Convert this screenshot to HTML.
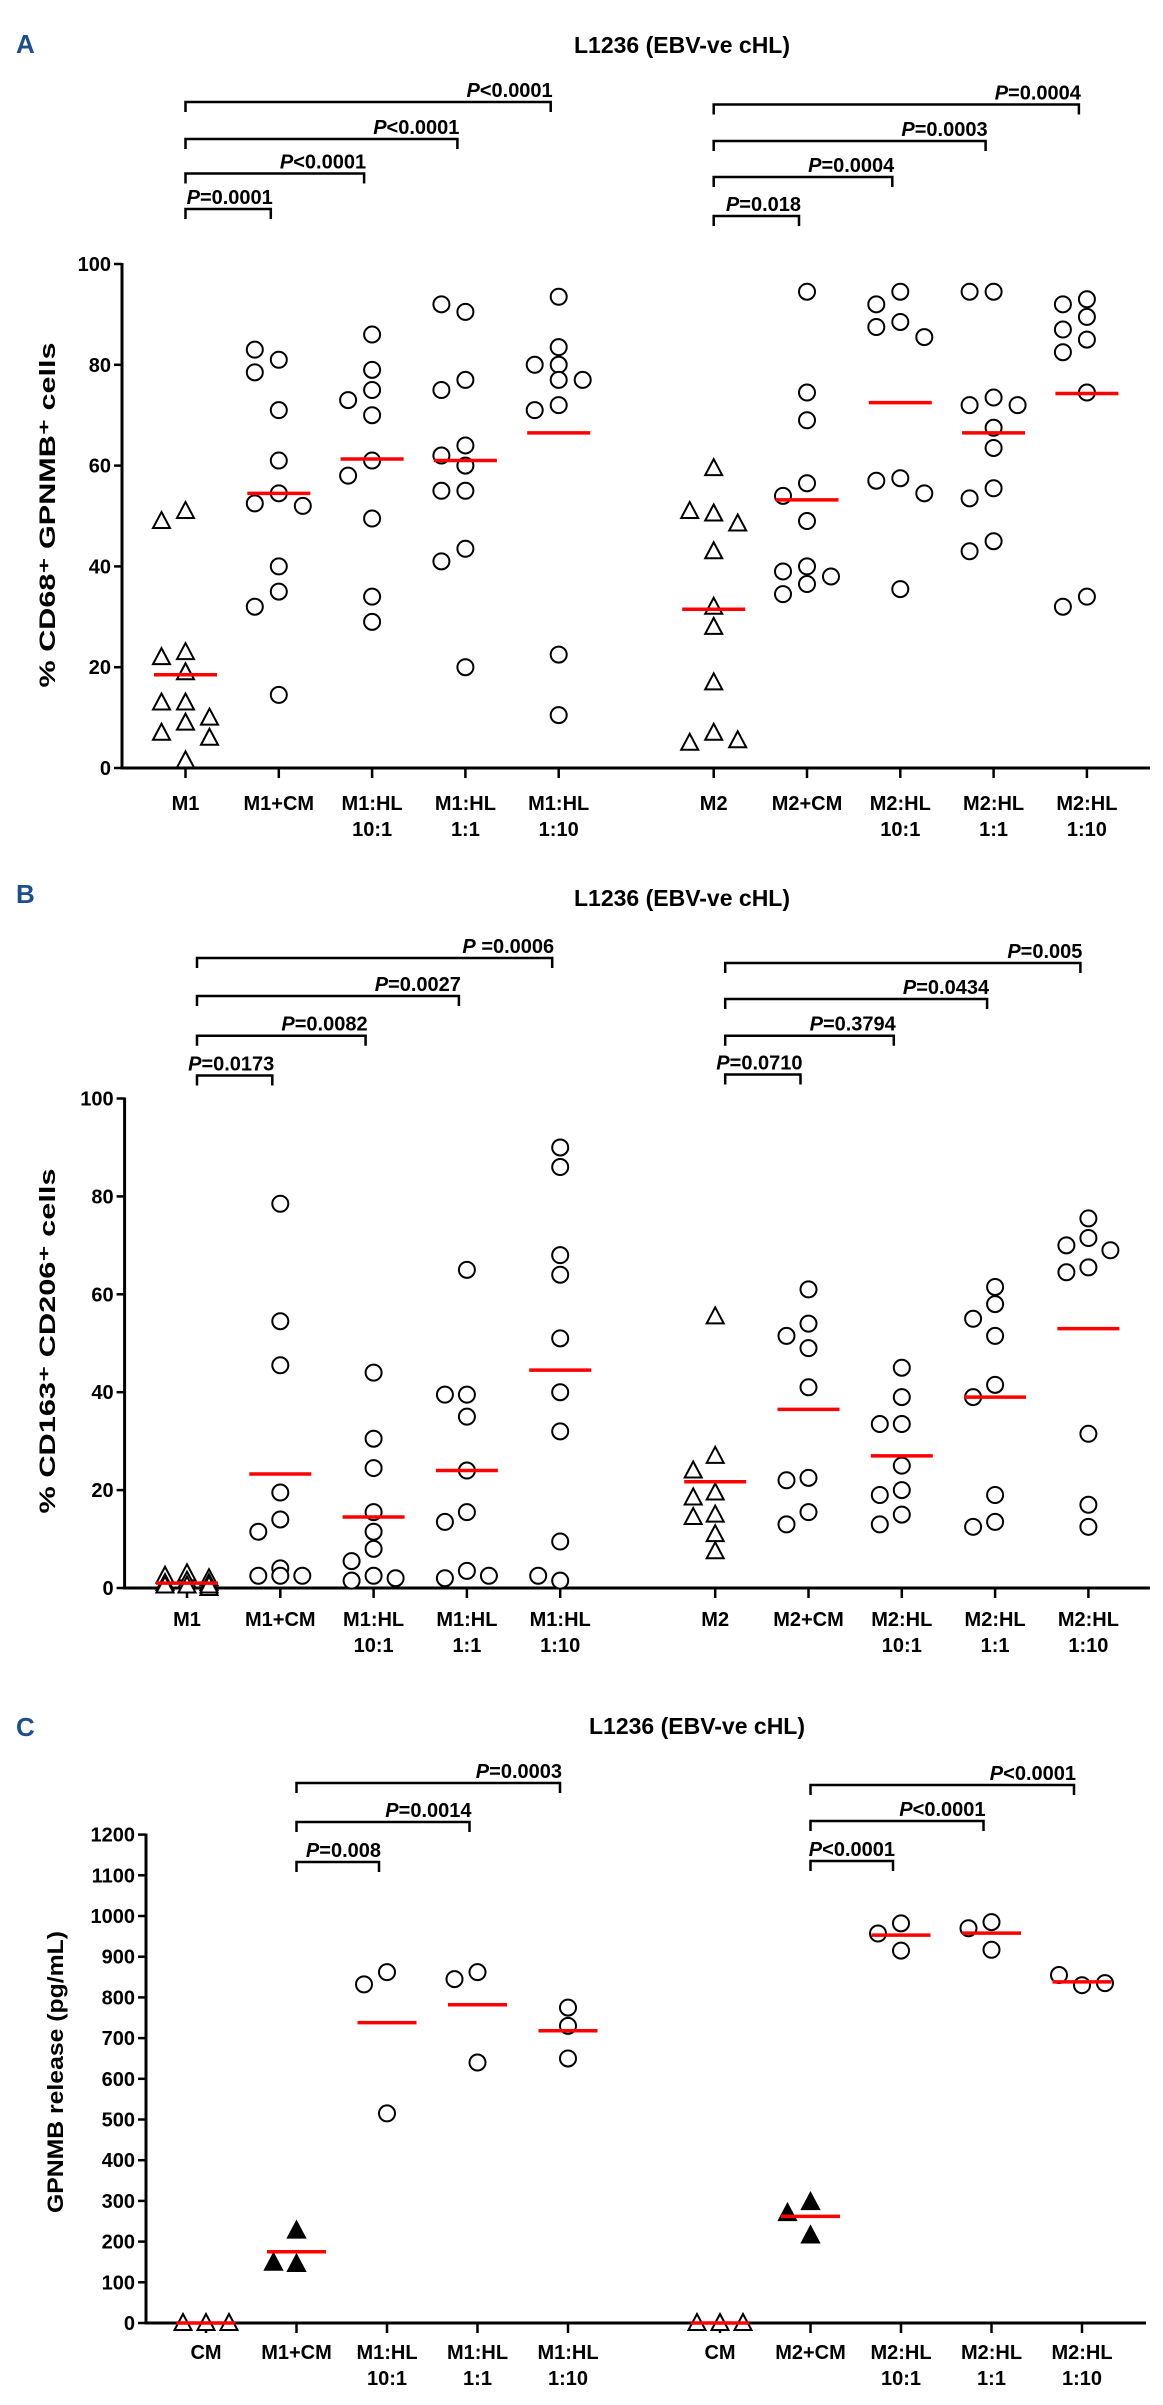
<!DOCTYPE html>
<html><head><meta charset="utf-8">
<style>
html,body{margin:0;padding:0;background:#fff;}
svg{display:block;}
text{font-family:"Liberation Sans Narrow","Liberation Sans",Arial,sans-serif;font-weight:bold;fill:#000;}
.yt{font-family:"Liberation Sans",Arial,sans-serif;}
.pl{font-family:"Liberation Sans",Arial,sans-serif;fill:#1f4e8c;font-size:26px;}
</style></head>
<body>
<svg id="chart" width="1163" height="2405" viewBox="0 0 1163 2405" xmlns="http://www.w3.org/2000/svg">
<text class="pl" x="16" y="53">A</text>
<text class="pl" x="16" y="903">B</text>
<text class="pl" x="16" y="1736">C</text>
</svg>
<script>
// ---------- Panel A data ----------
const catsA = ["M1","M1+CM","M1:HL\n10:1","M1:HL\n1:1","M1:HL\n1:10","M2","M2+CM","M2:HL\n10:1","M2:HL\n1:1","M2:HL\n1:10"];
const markA = ["tri","circ","circ","circ","circ","tri","circ","circ","circ","circ"];
const valsA = [
 [51,49,23,22,19,13,13,10,9,7,6,1.5],
 [81,83,78.5,71,61,54.5,52.5,52,40,35,32,14.5],
 [86,79,75,73,70,61,58,49.5,34,29],
 [90.5,92,77,75,64,62,60,55,55,43.5,41,20],
 [93.5,83.5,80,80,77,77,72,71,22.5,10.5],
 [59.5,50.5,51,48.5,43,32,28,17,7,5,5.5],
 [94.5,74.5,69,56.5,54,49,40,39,38,36.5,34.5],
 [94.5,92,88.5,87.5,85.5,57.5,57,54.5,35.5],
 [94.5,94.5,73.5,72,72,67.5,63.5,55.5,53.5,45,43],
 [93,92,89.5,87,85,82.5,74.5,34,32]
];
const medA = [18.5,54.5,61.3,61,66.5,31.5,53.2,72.5,66.5,74.3];
const ticksA = [0,20,40,60,80,100];
const bracketFromA = [0,0,0,0,5,5,5,5];
const bracketToA = [1,2,3,4,6,7,8,9];
const bracketLabelA = ["=0.0001","<0.0001","<0.0001","<0.0001","=0.018","=0.0004","=0.0003","=0.0004"];

// ---------- Panel B data ----------
const catsB = catsA;
const markB = markA;
const valsB = [
 [3,2.5,2,1.5,1,1,0.5,0.5,0,0.5],
 [78.5,54.5,45.5,19.5,14,11.5,4,2.5,2.5,2.5],
 [44,30.5,24.5,15.5,11.5,8,5.5,2.5,1.5,2],
 [65,39.5,39.5,35,24,15.5,13.5,3.5,2,2.5],
 [90,86,68,64,51,40,32,9.5,1.5,2.5],
 [55.5,27,24,19.5,18.5,15,14.5,11,7.5],
 [61,54,51.5,49,41,22.5,22,15.5,13],
 [45,39,33.5,33.5,25,20,19,15,13],
 [61.5,58,55,51.5,41.5,39,19,13.5,12.5],
 [75.5,71.5,70,69,65.5,64.5,31.5,17,12.5]
];
const medB = [1,23.3,14.5,24,44.5,21.7,36.5,27,39,53];
const ticksB = [0,20,40,60,80,100];
const bracketFromB = [0,0,0,0,5,5,5,5];
const bracketToB = [1,2,3,4,6,7,8,9];
const bracketLabelB = ["=0.0173","=0.0082","=0.0027"," =0.0006","=0.0710","=0.3794","=0.0434","=0.005"];

// ---------- Panel C data ----------
const catsC = ["CM","M1+CM","M1:HL\n10:1","M1:HL\n1:1","M1:HL\n1:10","CM","M2+CM","M2:HL\n10:1","M2:HL\n1:1","M2:HL\n1:10"];
const markC = ["tri","ftri","circ","circ","circ","tri","ftri","circ","circ","circ"];
const valsC = [
 [0,0,0],
 [227,145,148],
 [862,832,515],
 [862,845,640],
 [775,730,650],
 [0,0,0],
 [297,270,215],
 [982,915,957],
 [985,917,970],
 [830,855,835]
];
const medC = [0,175,738,782,718,0,262,953,958,838];
const ticksC = [0,100,200,300,400,500,600,700,800,900,1000,1100,1200];
const bracketFromC = [1,1,1,6,6,6];
const bracketToC = [2,3,4,7,8,9];
const bracketLabelC = ["=0.008","=0.0014","=0.0003","<0.0001","<0.0001","<0.0001"];

const NS = "http://www.w3.org/2000/svg";
const svg = document.getElementById('chart');
function mk(tag, attrs, parent){
  const e = document.createElementNS(NS, tag);
  for (const k in attrs) e.setAttribute(k, attrs[k]);
  (parent||svg).appendChild(e);
  return e;
}

function drawPanel(p){
  const g = mk('g',{});
  
  
  const y = v => p.y0 - (v - p.vmin) / (p.vmax - p.vmin) * (p.y0 - p.y1);
  const x = i => p.x0 + i * p.step + (i >= 5 ? p.gap : 0);

  const t = mk('text',{x:p.titleX, y:p.titleY, 'text-anchor':'middle', 'font-size':23}, g);
  t.textContent = "L1236 (EBV-ve cHL)";
  
  

  const ya = mk('line',{x1:p.ax, y1:y(p.ticks[p.ticks.length-1]) - 1, x2:p.ax, y2:p.y0 + 1.5, stroke:'#000','stroke-width':3}, g);
  
  
  p.ticks.forEach(v => {
    mk('line',{x1:p.ax-8, y1:y(v), x2:p.ax, y2:y(v), stroke:'#000','stroke-width':2.5}, g);
    const tl = mk('text',{x:p.ax-11, y:y(v)+7, 'text-anchor':'end', 'font-size':20}, g);
    tl.textContent = v;
    
    
  });
  const yt = mk('text',{class:'yt', x:0, y:0, 'text-anchor':'middle', 'font-size':22, textLength:p.ytLen, lengthAdjust:'spacingAndGlyphs', transform:`translate(${p.ytX},${p.ytY}) rotate(-90)`}, g);
  yt.textContent = p.ytitle;
  
  

  const xa = mk('line',{x1:p.ax-1.5, y1:p.y0, x2:p.xEnd, y2:p.y0, stroke:'#000','stroke-width':3}, g);
  
  
  p.cats.forEach((c,i) => {
    mk('line',{x1:x(i), y1:p.y0, x2:x(i), y2:p.y0+10, stroke:'#000','stroke-width':2.5}, g);
    c.split("\n").forEach((ln,j) => {
      const cl = mk('text',{x:x(i), y:p.labY + j*26, 'text-anchor':'middle', 'font-size':20}, g);
      cl.textContent = ln;
      
      
    });
  });

  const D = 17, R = 8;
  p.vals.forEach((arr,i) => {
    const placed = [];
    arr.forEach(v => {
      const py = y(v);
      const offs = [0,-1,1];
      let best = x(i), bestD = -1;
      for (const o of offs){
        const cx = x(i) + o * p.jit;
        const md = placed.reduce((m,q) => Math.min(m, Math.hypot(q[0]-cx, q[1]-py)), 1e9);
        if (md >= D) { best = cx; bestD = md; break; }
        if (md > bestD) { bestD = md; best = cx; }
      }
      const px = best;
      placed.push([px,py]);
      let m;
      if (p.marks[i] === 'circ') {
        m = mk('circle',{cx:px, cy:py, r:R, fill:'#fff', stroke:'#000','stroke-width':2}, g);
      } else {
        const fill = p.marks[i] === 'ftri' ? '#000' : '#fff';
        m = mk('polygon',{points:`${px},${py-9} ${px-8.5},${py+7} ${px+8.5},${py+7}`, fill:fill, stroke:'#000','stroke-width':2}, g);
      }
      
      
    });
  });
  p.med.forEach((v,i) => {
    const l = mk('line',{x1:x(i)-p.mw/2, y1:y(v), x2:x(i)+p.mw/2, y2:y(v), stroke:'#ff0000','stroke-width':3.5}, g);
    
    
  });

  p.bFrom.forEach((f,k) => {
    const by = p.bY[k];
    const x1 = x(f) + p.bOff, x2 = x(p.bTo[k]) - 8;
    const b = mk('path',{d:`M${x1},${by+10} V${by} H${x2} V${by+10}`, fill:'none', stroke:'#000','stroke-width':2.5}, g);
    
    
    const tx = mk('text',{x:x2+2, y:by-5, 'text-anchor':'end', 'font-size':20}, g);
    const ti = mk('tspan',{'font-style':'italic'}, tx); ti.textContent = 'P';
    const tv = mk('tspan',{}, tx); tv.textContent = p.bLab[k];
    
    
  });
}

drawPanel({name:'panel-a', cats:catsA, marks:markA, vals:valsA, med:medA, ticks:ticksA,
  vmin:0, vmax:100, y0:768, y1:264, ax:122, xEnd:1150, x0:185.5, step:93.3, gap:61.7, jit:24, mw:63,
  labY:810, titleX:682, titleY:53, ytitle:"% CD68⁺ GPNMB⁺ cells", ytX:55, ytY:515, ytLen:345,
  bFrom:bracketFromA, bTo:bracketToA, bLab:bracketLabelA, bOff:0,
  bY:[209,173.5,139,102,216,177,141,104.5]});

drawPanel({name:'panel-b', cats:catsB, marks:markB, vals:valsB, med:medB, ticks:ticksB,
  vmin:0, vmax:100, y0:1588, y1:1098.5, ax:124.6, xEnd:1150, x0:187, step:93.3, gap:61.7, jit:22, mw:62,
  labY:1626, titleX:682, titleY:906, ytitle:"% CD163⁺ CD206⁺ cells", ytX:55, ytY:1341, ytLen:345,
  bFrom:bracketFromB, bTo:bracketToB, bLab:bracketLabelB, bOff:10,
  bY:[1075.5,1035.7,996,958,1074.5,1035.7,999,963]});

drawPanel({name:'panel-c', cats:catsC, marks:markC, vals:valsC, med:medC, ticks:ticksC,
  vmin:0, vmax:1200, y0:2323, y1:1834.6, ax:146, xEnd:1146, x0:206, step:90.5, gap:61.5, jit:23, mw:59,
  labY:2359, titleX:697, titleY:1734, ytitle:"GPNMB release (pg/mL)", ytX:63, ytY:2072, ytLen:282,
  bFrom:bracketFromC, bTo:bracketToC, bLab:bracketLabelC, bOff:0,
  bY:[1862,1822,1783,1861,1821,1785]});
</script>
</body></html>
